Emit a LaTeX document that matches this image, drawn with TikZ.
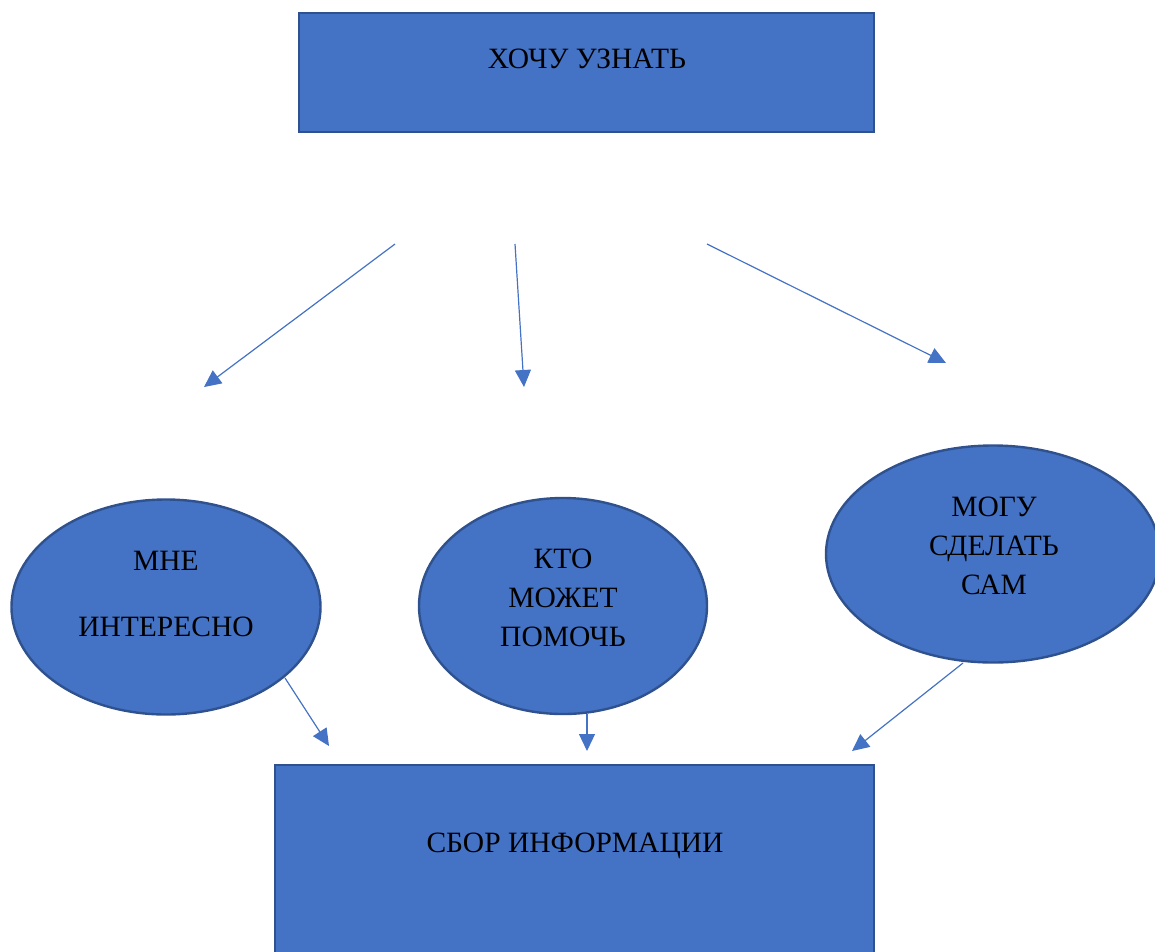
\documentclass[tikz,border=0pt]{standalone}
\usepackage{fontspec}
\setmainfont{Liberation Serif}
\usetikzlibrary{arrows.meta,shapes.geometric}
\definecolor{boxfill}{HTML}{4472C4}
\definecolor{boxline}{HTML}{2F528F}
\tikzset{
  rectbox/.style={draw=boxline,fill=boxfill,line width=2.4pt,inner sep=0pt},
  ellbox/.style={ellipse,draw=boxline,fill=boxfill,line width=2.4pt,inner sep=0pt},
  lbl/.style={font=\fontsize{29.5}{39}\selectfont,align=center,text=black,inner sep=0pt},
  conn/.style={draw=boxfill,line width=1.2pt,-{Triangle[length=17pt,width=16pt]}}
}
\begin{document}
\begin{tikzpicture}[x=1pt,y=-1pt]
\useasboundingbox (0,0) rectangle (1155,951);
% boxes
\node[rectbox,minimum width=575pt,minimum height=119pt] (top) at (586.5,72.5) {};
\node[rectbox,minimum width=599pt,minimum height=200pt] (bot) at (574.5,865) {};
\node[ellbox,minimum width=309pt,minimum height=215pt] (e1) at (166,607) {};
\node[ellbox,minimum width=288pt,minimum height=216pt] (e2) at (563,606) {};
\node[ellbox,minimum width=334pt,minimum height=217pt] (e3) at (993,554) {};
% texts
\node[lbl] (ttop) at (587,59) {ХОЧУ УЗНАТЬ};
\node[lbl] (tbot) at (575,846) {СБОР ИНФОРМАЦИИ};
\node[lbl] (t1) at (166,594) {МНЕ\\[27pt]ИНТЕРЕСНО};
\node[lbl] (t2) at (563,598) {КТО\\МОЖЕТ\\ПОМОЧЬ};
\node[lbl] (t3) at (994,546) {МОГУ\\СДЕЛАТЬ\\САМ};
% arrow ends
\coordinate (a1s) at (395,244); \coordinate (a1e) at (204,387);
\coordinate (a2s) at (515,244); \coordinate (a2e) at (524,387);
\coordinate (a3s) at (707,244); \coordinate (a3e) at (946,363);
\coordinate (a4s) at (285,678); \coordinate (a4e) at (329,746);
\coordinate (a5s) at (587,714); \coordinate (a5e) at (587,751);
\coordinate (a6s) at (963,663); \coordinate (a6e) at (852,751);
\draw[conn] (a1s) -- (a1e);
\draw[conn] (a2s) -- (a2e);
\draw[conn] (a3s) -- (a3e);
\draw[conn] (a4s) -- (a4e);
\draw[conn] (a5s) -- (a5e);
\draw[conn] (a6s) -- (a6e);
\end{tikzpicture}
\end{document}
